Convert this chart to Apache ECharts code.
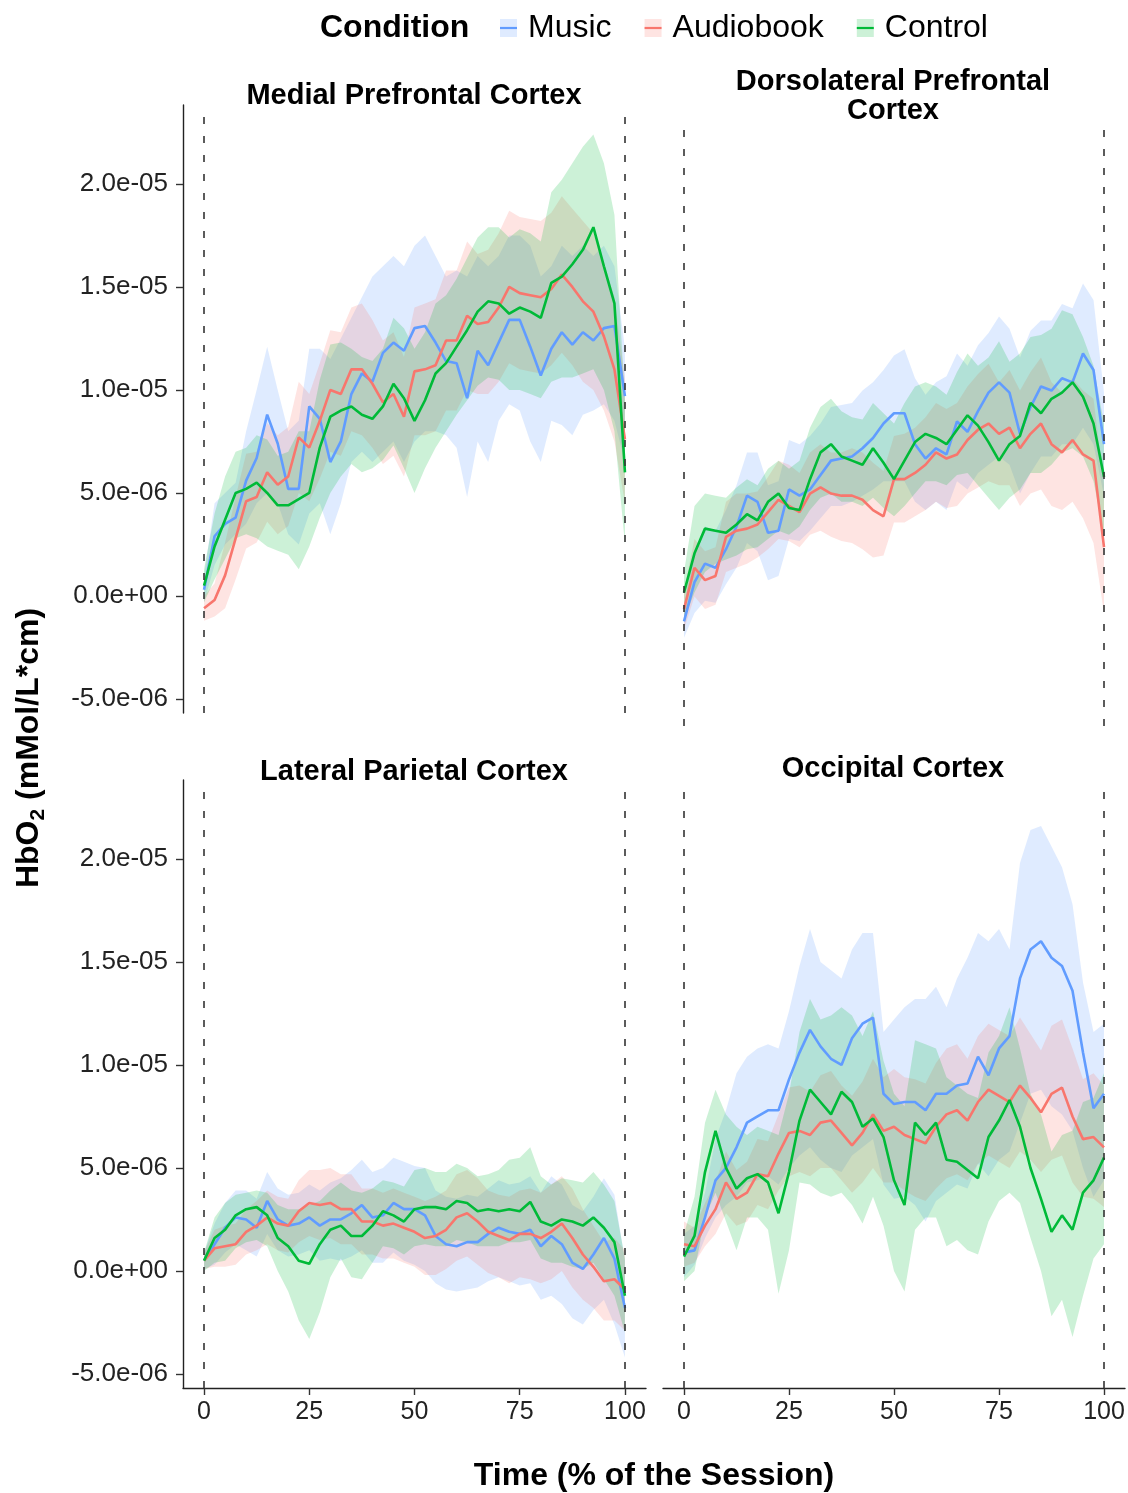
<!DOCTYPE html>
<html>
<head>
<meta charset="utf-8">
<script src="https://cdn.jsdelivr.net/npm/echarts@6/dist/echarts.min.js"></script>
<style>html,body{margin:0;padding:0;background:#fff}#chart{width:1128px;height:1493px}</style>
</head>
<body>
<div id="chart"></div>
<script>
// ---------- DATA (HbO2 values in units of 1e-6 mMol/L*cm) ----------
const time = [0,2.5,5,7.5,10,12.5,15,17.5,20,22.5,25,27.5,30,32.5,35,37.5,40,42.5,45,47.5,50,52.5,55,57.5,60,62.5,65,67.5,70,72.5,75,77.5,80,82.5,85,87.5,90,92.5,95,97.5,100];
const conditions = ['Music','Audiobook','Control'];
const regions = ['Medial Prefrontal Cortex','Dorsolateral Prefrontal\nCortex','Lateral Parietal Cortex','Occipital Cortex'];
const xTicks = [0,25,50,75,100];
const yTicks = [-5,0,5,10,15,20];

// Medial Prefrontal Cortex
const mpfc_music_mean = [0.3,2.9,3.5,3.8,5.6,6.7,8.8,7.4,5.2,5.2,9.2,8.6,6.5,7.5,9.8,10.8,10.4,11.8,12.3,11.9,13.0,13.1,12.3,11.4,11.3,9.6,11.9,11.2,12.3,13.4,13.4,12.1,10.7,12.0,12.8,12.2,12.8,12.4,13.0,13.1,9.7];
const mpfc_music_low  = [-0.3,1.5,2.5,3.0,3.5,4.5,5.0,4.5,3.0,2.5,4.0,4.5,3.0,4.5,6.5,7.0,6.5,7.0,7.5,6.5,7.5,8.0,8.0,7.8,7.2,4.8,7.5,6.5,8.5,9.3,9.0,7.5,6.5,8.5,8.3,7.8,8.8,9.0,9.3,8.5,6.5];
const mpfc_music_high = [1.0,4.5,5.0,5.5,8.0,10.0,12.1,10.0,8.0,8.5,12.0,12.0,11.5,12.5,13.5,14.5,15.5,16.0,16.5,16.0,17.0,17.5,16.5,15.5,15.8,15.5,16.5,16.0,16.5,17.5,17.5,17.0,15.5,16.0,17.0,16.5,17.0,16.5,17.0,16.0,12.0];
const mpfc_audio_mean = [-0.6,-0.2,1.0,2.8,4.6,4.8,6.0,5.4,5.8,7.7,7.2,8.5,10.0,9.8,11.0,11.0,10.3,9.4,9.8,8.7,10.9,11.0,11.2,12.4,12.4,13.6,13.2,13.3,14.0,15.0,14.7,14.6,14.5,14.9,15.6,15.0,14.3,13.8,12.6,11.0,7.6];
const mpfc_audio_low  = [-1.2,-1.0,-0.6,0.8,2.3,2.6,3.6,3.0,3.4,5.0,4.6,5.7,7.0,6.8,8.0,7.8,7.2,6.4,6.8,5.8,7.8,7.8,8.0,9.0,9.0,10.0,9.8,9.8,10.4,11.3,11.0,10.9,10.8,11.2,11.8,11.2,10.4,10.0,9.0,7.5,4.5];
const mpfc_audio_high = [0.0,0.6,2.6,4.8,6.9,7.0,8.4,7.8,8.2,10.4,9.8,11.3,12.9,12.8,14.0,14.2,13.4,12.4,12.8,11.6,14.0,14.2,14.4,15.8,15.8,17.2,16.6,16.8,17.6,18.7,18.4,18.3,18.2,18.6,19.4,18.8,18.2,17.6,16.2,14.5,10.5];
const mpfc_ctrl_mean  = [0.5,2.4,3.7,5.0,5.2,5.5,5.0,4.4,4.4,4.7,5.0,7.2,8.7,9.0,9.2,8.8,8.6,9.2,10.3,9.6,8.5,9.5,10.8,11.3,12.1,12.9,13.8,14.3,14.2,13.7,14.0,13.8,13.5,15.2,15.5,16.1,16.8,17.9,16.0,14.2,6.0];
const mpfc_ctrl_low   = [-0.3,0.8,1.8,2.8,3.0,2.8,2.4,2.2,2.0,1.3,2.4,3.8,5.0,5.8,6.4,6.0,6.2,6.6,7.3,6.2,5.0,6.2,7.2,8.0,8.8,9.5,10.2,10.6,10.5,10.0,10.0,9.8,9.6,10.4,10.6,10.6,10.8,11.0,10.0,8.0,2.5];
const mpfc_ctrl_high  = [1.3,4.0,5.8,7.0,7.2,7.8,7.6,6.8,7.0,8.0,8.0,10.5,12.2,12.3,12.0,11.6,11.4,12.0,13.5,13.0,12.0,12.8,14.2,14.6,15.4,16.4,17.4,17.9,17.9,17.4,17.8,17.6,17.2,19.6,20.2,21.0,21.8,22.4,21.0,18.5,9.5];

// Dorsolateral Prefrontal Cortex
const dlpfc_music_mean = [-0.6,1.3,2.2,2.0,2.9,4.0,5.5,5.2,3.7,3.8,5.8,5.5,5.8,6.5,7.2,7.3,7.4,7.8,8.3,9.0,9.5,9.5,8.0,7.3,7.8,7.5,9.1,8.6,9.6,10.5,11.0,10.5,8.5,9.8,10.8,10.6,11.2,11.0,12.4,11.6,8.0];
const dlpfc_music_low  = [-1.4,-0.2,0.4,0.3,1.2,2.0,3.2,2.8,1.4,1.6,3.4,3.3,3.8,4.4,5.0,5.0,5.2,5.5,5.8,6.2,6.2,6.2,5.2,4.8,5.2,4.8,6.2,5.8,6.6,7.0,7.4,7.0,5.6,6.6,7.4,7.4,8.0,8.0,8.8,8.0,5.5];
const dlpfc_music_high = [0.2,2.8,4.0,3.8,4.8,6.0,7.6,7.6,6.0,6.2,8.2,8.0,8.4,9.0,9.8,9.9,10.0,10.6,11.0,11.6,12.3,12.6,11.2,10.4,11.0,11.3,12.4,11.8,12.8,13.4,14.2,13.6,12.2,13.5,14.0,14.0,14.8,14.6,15.8,15.0,10.5];
const dlpfc_audio_mean = [0.0,2.0,1.4,1.6,3.5,3.8,3.9,4.1,4.7,5.3,5.0,4.7,5.6,5.9,5.6,5.5,5.5,5.3,4.8,4.5,6.3,6.3,6.6,7.0,7.6,7.3,7.5,8.2,8.7,9.0,8.5,8.8,7.8,8.5,9.0,8.0,7.6,8.2,7.5,7.2,3.0];
const dlpfc_audio_low  = [-1.0,0.6,0.0,0.2,1.8,2.0,2.2,2.5,2.9,3.4,3.3,3.0,3.6,3.8,3.5,3.3,3.2,2.9,2.5,2.6,4.2,4.2,4.5,4.8,5.2,4.9,5.0,5.6,5.9,6.2,6.0,6.0,5.0,5.6,5.8,5.0,4.8,5.2,4.4,3.2,-0.2];
const dlpfc_audio_high = [0.9,3.4,2.8,3.0,5.2,5.6,5.6,5.7,6.4,7.2,7.0,6.6,7.6,8.0,7.6,7.6,7.8,7.6,7.1,6.7,8.4,8.5,8.8,9.3,10.0,9.7,10.0,10.8,11.4,11.9,11.0,11.6,10.6,11.5,12.2,11.0,10.5,11.2,10.6,10.2,6.0];
const dlpfc_ctrl_mean  = [0.8,2.7,3.9,3.8,3.7,4.1,4.6,4.3,5.2,5.6,4.9,4.8,6.3,7.6,8.0,7.4,7.2,7.0,7.8,7.1,6.3,7.2,8.1,8.5,8.3,8.0,8.7,9.4,8.9,8.1,7.2,8.0,8.4,10.0,9.5,10.2,10.5,11.0,10.3,9.0,6.4];
const dlpfc_ctrl_low   = [-0.5,0.8,1.8,2.2,2.4,2.6,2.9,3.0,3.4,3.8,3.6,4.0,4.8,5.4,5.6,5.2,5.2,5.0,5.4,4.9,4.5,5.0,5.6,6.2,6.2,6.0,6.5,6.6,6.0,5.4,4.8,5.4,5.8,6.6,6.6,7.0,7.6,7.8,7.4,6.2,3.6];
const dlpfc_ctrl_high  = [1.8,5.0,5.6,5.5,5.4,5.9,6.3,6.0,6.8,7.2,6.8,7.2,8.8,9.8,10.2,9.6,9.3,9.2,10.0,9.5,9.0,10.0,10.8,11.0,10.8,10.4,11.5,12.4,11.8,12.2,13.0,12.0,12.4,13.2,13.3,13.6,14.5,14.3,13.2,11.8,9.0];

// Lateral Parietal Cortex
const lpc_music_mean = [0.5,1.3,2.1,2.6,2.5,2.1,3.4,2.5,2.2,2.3,2.6,2.2,2.5,2.5,2.8,3.2,2.6,2.7,3.3,3.0,3.0,2.7,1.7,1.3,1.2,1.4,1.4,1.8,2.1,1.9,1.8,2.0,1.2,1.7,1.3,0.4,0.1,0.8,1.6,0.6,-1.8];
const lpc_music_low  = [0.1,0.3,0.9,1.3,1.0,0.7,1.8,1.0,0.7,0.8,1.0,0.5,0.6,0.5,0.7,1.0,0.4,0.4,0.9,0.5,0.3,0.0,-0.6,-0.9,-1.0,-0.9,-0.8,-0.5,-0.3,-0.5,-0.7,-0.6,-1.4,-1.2,-1.6,-2.3,-2.6,-1.9,-1.4,-2.6,-4.2];
const lpc_music_high = [0.9,2.3,3.3,3.9,3.9,3.5,4.8,4.0,3.7,3.8,4.2,3.9,4.3,4.5,4.9,5.4,4.8,5.0,5.5,5.3,5.1,5.0,3.9,3.6,3.5,3.7,3.6,4.0,4.4,4.2,4.3,4.6,3.8,4.6,4.2,3.2,2.9,3.6,4.5,3.7,0.5];
const lpc_audio_mean = [0.5,1.1,1.2,1.3,1.9,2.2,2.6,2.3,2.2,2.9,3.3,3.2,3.3,3.0,3.0,2.4,2.4,2.2,2.3,2.1,1.9,1.6,1.7,2.0,2.6,2.8,2.4,1.9,1.7,1.5,1.8,1.8,1.6,1.9,2.3,1.6,0.8,0.2,-0.5,-0.4,-0.9];
const lpc_audio_low  = [0.1,0.2,0.2,0.3,0.8,1.0,1.3,1.0,0.9,1.4,1.7,1.5,1.6,1.3,1.3,0.8,0.8,0.6,0.6,0.4,0.2,-0.2,-0.2,0.1,0.5,0.7,0.3,-0.1,-0.3,-0.6,-0.3,-0.4,-0.6,-0.4,0.0,-0.8,-1.4,-1.8,-2.4,-2.4,-2.9];
const lpc_audio_high = [0.9,2.0,2.2,2.3,3.0,3.4,3.9,3.6,3.5,4.4,4.9,4.9,5.0,4.7,4.7,4.0,4.0,3.8,4.0,3.8,3.6,3.4,3.6,3.9,4.7,4.9,4.5,3.9,3.7,3.6,3.9,4.0,3.8,4.2,4.6,4.0,3.0,2.2,1.4,1.6,1.0];
const lpc_ctrl_mean  = [0.5,1.6,2.0,2.7,3.0,3.1,2.7,1.6,1.2,0.5,0.35,1.3,2.0,2.2,1.7,1.7,2.2,2.9,2.7,2.4,3.0,3.1,3.1,3.0,3.4,3.3,2.9,3.0,2.9,3.0,2.9,3.35,2.4,2.2,2.5,2.4,2.2,2.6,2.1,1.4,-1.2];
const lpc_ctrl_low   = [0.0,0.4,0.5,1.1,1.4,1.5,1.2,0.0,-1.0,-2.4,-3.3,-2.0,-0.3,0.6,-0.3,-0.4,0.4,1.2,1.1,0.8,1.2,1.3,1.2,1.2,1.5,1.4,1.2,1.2,1.2,1.4,1.4,1.5,0.6,0.4,0.4,0.2,0.1,0.4,-0.4,-1.2,-3.0];
const lpc_ctrl_high  = [0.9,2.6,3.3,3.7,3.8,3.9,3.8,3.2,3.0,3.0,3.2,3.4,3.9,4.3,3.9,3.8,4.0,4.4,4.3,4.1,4.9,5.0,4.8,4.8,5.2,5.0,4.6,4.7,4.9,5.4,5.5,6.0,4.6,4.2,4.5,4.4,4.3,4.8,4.2,3.4,0.6];

// Occipital Cortex
const oc_music_mean = [0.9,1.0,2.6,4.4,5.0,6.0,7.2,7.5,7.8,7.8,9.3,10.6,11.7,10.9,10.3,10.0,11.3,12.0,12.3,8.6,8.1,8.2,8.2,7.8,8.6,8.6,9.0,9.1,10.4,9.5,10.8,11.4,14.2,15.6,16.0,15.2,14.8,13.6,10.6,7.9,8.6];
const oc_music_low  = [-0.3,0.3,1.6,2.6,3.2,3.6,4.3,4.4,4.6,4.2,5.0,5.6,6.0,5.4,5.0,4.8,5.6,6.0,6.4,4.2,3.5,3.6,3.2,2.4,3.4,3.8,4.2,4.0,5.2,4.6,5.4,5.8,7.2,8.6,8.8,8.0,7.6,6.8,5.0,3.6,4.4];
const oc_music_high = [1.8,2.2,3.8,6.4,7.8,9.6,10.4,10.8,11.0,10.8,12.6,14.8,16.6,15.0,14.6,14.2,15.6,16.4,16.4,11.6,12.2,12.8,13.2,13.2,13.8,12.8,14.2,15.2,16.4,16.0,16.6,15.6,19.8,21.4,21.6,20.6,19.6,17.8,14.0,11.6,12.0];
const oc_audio_mean = [1.3,1.2,2.2,3.0,4.3,3.5,3.8,4.7,4.6,5.7,6.7,6.8,6.6,7.2,7.3,6.7,6.1,6.7,7.6,6.8,7.0,6.6,6.4,6.2,7.0,7.6,7.8,7.3,8.2,8.8,8.5,8.2,9.0,8.4,7.7,8.6,8.9,7.5,6.4,6.5,6.0];
const oc_audio_low  = [0.2,0.4,1.2,1.8,2.8,2.2,2.4,3.2,3.0,3.9,4.6,4.8,4.6,5.0,5.0,4.4,3.8,4.3,5.0,4.3,4.3,3.9,3.6,3.4,4.0,4.5,4.7,4.4,5.2,5.6,5.3,5.0,5.8,5.4,4.8,5.4,5.6,4.3,3.6,3.5,3.1];
const oc_audio_high = [2.4,2.1,3.3,4.3,5.8,4.9,5.3,6.4,6.3,7.6,8.9,9.0,8.7,9.5,9.7,9.0,8.5,9.2,10.3,9.4,9.8,9.4,9.3,9.1,10.1,10.8,11.0,10.3,11.4,12.0,11.7,11.4,12.3,11.5,10.7,11.9,12.2,10.8,9.3,9.6,9.0];
const oc_ctrl_mean  = [0.7,1.7,4.8,6.8,5.0,4.0,4.5,4.7,4.3,2.8,4.8,7.3,8.8,8.2,7.6,8.7,8.2,7.0,7.4,6.5,4.4,3.2,7.2,6.6,7.2,5.4,5.3,4.9,4.5,6.5,7.3,8.3,7.0,5.0,3.5,1.9,2.7,2.0,3.8,4.4,5.5];
const oc_ctrl_low   = [-0.5,0.0,2.6,3.8,2.4,1.0,2.6,2.6,2.0,-1.1,1.0,4.3,4.2,3.8,3.6,3.8,3.2,2.3,3.6,2.2,0.0,-1.0,2.0,2.6,2.6,1.2,1.5,1.0,0.8,2.4,3.4,3.8,3.3,1.6,0.0,-2.2,-1.4,-3.2,-1.2,0.6,1.3];
const oc_ctrl_high  = [1.8,3.6,7.2,8.8,7.6,7.0,6.6,7.0,6.8,6.6,8.6,11.6,13.2,12.2,12.4,12.8,12.4,11.4,12.6,10.2,8.6,8.0,11.2,11.0,10.8,9.4,9.0,8.6,8.4,10.6,11.4,12.8,10.8,8.6,7.6,5.8,6.6,6.8,8.2,8.4,9.6];

// ---------- STYLE ----------
const UNIT = 1e-6;
const FONT = "'Liberation Sans', Arial, Helvetica, sans-serif";
const lineColor = {Music:'#619CFF', Audiobook:'#F8766D', Control:'#00BA38'};
const bandColor = {Music:'rgba(97,156,255,0.2)', Audiobook:'rgba(248,118,109,0.2)', Control:'rgba(0,186,56,0.2)'};
const keyFill = {Music:'#DFEBFF', Audiobook:'#FEE4E2', Control:'#CCF1D7'};
const TICK_TEXT = '#222';

const panelData = [
  {Music:[mpfc_music_mean,mpfc_music_low,mpfc_music_high], Audiobook:[mpfc_audio_mean,mpfc_audio_low,mpfc_audio_high], Control:[mpfc_ctrl_mean,mpfc_ctrl_low,mpfc_ctrl_high]},
  {Music:[dlpfc_music_mean,dlpfc_music_low,dlpfc_music_high], Audiobook:[dlpfc_audio_mean,dlpfc_audio_low,dlpfc_audio_high], Control:[dlpfc_ctrl_mean,dlpfc_ctrl_low,dlpfc_ctrl_high]},
  {Music:[lpc_music_mean,lpc_music_low,lpc_music_high], Audiobook:[lpc_audio_mean,lpc_audio_low,lpc_audio_high], Control:[lpc_ctrl_mean,lpc_ctrl_low,lpc_ctrl_high]},
  {Music:[oc_music_mean,oc_music_low,oc_music_high], Audiobook:[oc_audio_mean,oc_audio_low,oc_audio_high], Control:[oc_ctrl_mean,oc_ctrl_low,oc_ctrl_high]}
];

const grids = [
  {left:183, top:105, width:463, height:608},
  {left:663, top:118, width:462, height:608},
  {left:183, top:780, width:463, height:608},
  {left:663, top:780, width:462, height:608}
].map(g => Object.assign(g, {outerBoundsMode:'none', containLabel:false}));

function sciFmt(v){
  const s = Number(v).toExponential(1);
  return s.replace(/e([+-])(\d)$/, (m, sg, d) => 'e' + sg + '0' + d);
}

const xAxes = grids.map((g, i) => {
  const bottom = i >= 2;
  return {
    type:'value', gridIndex:i, min:-5, max:105,
    axisLine:{show:bottom, onZero:false, lineStyle:{color:'#222', width:1.4}},
    axisTick:{show:bottom, length:7, lineStyle:{color:'#333', width:1.4}, customValues:xTicks},
    axisLabel:{show:bottom, margin:12, fontSize:25, color:TICK_TEXT, fontFamily:FONT, customValues:xTicks},
    splitLine:{show:false}
  };
});
const yTickVals = yTicks.map(v => v * UNIT);
const yAxes = grids.map((g, i) => {
  const left = i % 2 === 0;
  return {
    type:'value', gridIndex:i, min:-5.68 * UNIT, max:23.83 * UNIT,
    axisLine:{show:left, onZero:false, lineStyle:{color:'#222', width:1.4}},
    axisTick:{show:left, length:7, lineStyle:{color:'#333', width:1.4}, customValues:yTickVals},
    axisLabel:{show:left, margin:15, fontSize:26, color:TICK_TEXT, fontFamily:FONT, formatter:sciFmt, customValues:yTickVals},
    splitLine:{show:false}
  };
});

function bandRenderer(fill){
  return function(params, api){
    if (params.dataIndexInside !== 0) return null;
    const n = params.dataInsideLength;
    const upper = [], lower = [];
    for (let i = 0; i < n; i++) {
      const x = api.value(0, i);
      upper.push(api.coord([x, api.value(2, i)]));
      lower.push(api.coord([x, api.value(1, i)]));
    }
    return {type:'polygon', shape:{points: upper.concat(lower.reverse())}, style:{fill: fill, stroke: null, lineWidth: 0}};
  };
}

const series = [];
panelData.forEach((pd, gi) => {
  conditions.forEach((c, ci) => {
    const [mean, lo, hi] = pd[c];
    series.push({
      type:'custom', name:c, xAxisIndex:gi, yAxisIndex:gi, silent:true, clip:true,
      itemStyle:{color:lineColor[c]},
      encode:{x:0, y:[1,2]},
      data: time.map((t, k) => [t, lo[k] * UNIT, hi[k] * UNIT]),
      renderItem: bandRenderer(bandColor[c])
    });
    const ln = {
      type:'line', name:c, xAxisIndex:gi, yAxisIndex:gi, symbol:'none', silent:true,
      lineStyle:{color:lineColor[c], width:2.6}, itemStyle:{color:lineColor[c]},
      data: time.map((t, k) => [t, mean[k] * UNIT])
    };
    if (ci === conditions.length - 1) {
      ln.markLine = {
        silent:true, symbol:['none','none'], label:{show:false}, animation:false,
        lineStyle:{color:'#333', width:1.6, type:[7,12]},
        data: [{xAxis:xTicks[0]}, {xAxis:xTicks[xTicks.length - 1]}]
      };
    }
    series.push(ln);
  });
});

const panelTitlePos = [
  {left:414, top:81}, {left:893, top:67}, {left:414, top:757}, {left:893, top:754}
];
const titles = [
  {text:'Condition', left:320, top:12, padding:0, textStyle:{fontSize:32, fontWeight:'bold', color:'#000', fontFamily:FONT, lineHeight:32}}
].concat(regions.map((r, i) => ({
  text:r, left:panelTitlePos[i].left, top:panelTitlePos[i].top, textAlign:'center', padding:0,
  textStyle:{fontSize:29, fontWeight:'bold', color:'#000', fontFamily:FONT, lineHeight:29}
}))).concat([
  {text:'Time (% of the Session)', left:654, top:1459, textAlign:'center', padding:0,
   textStyle:{fontSize:32, fontWeight:'bold', color:'#000', fontFamily:FONT, lineHeight:34}}
]);

const legendBase = {
  left:500, top:11, orient:'horizontal', itemWidth:17, itemHeight:18, itemGap:33, padding:0,
  selectedMode:false
};
const legends = [
  Object.assign({}, legendBase, {
    textStyle:{fontSize:32, color:'rgba(0,0,0,0)', fontFamily:FONT, lineHeight:34, padding:[0,0,0,6]},
    data: conditions.map(c => ({name:c, icon:'rect', itemStyle:{color:keyFill[c], borderWidth:0}}))
  }),
  Object.assign({}, legendBase, {
    textStyle:{fontSize:32, color:'#000', fontFamily:FONT, lineHeight:34, padding:[0,0,0,6]},
    data: conditions.map(c => ({name:c, icon:'path://M0,0L20,0L20,2.6L0,2.6Z', itemStyle:{color:lineColor[c], borderWidth:0}}))
  })
];

const chart = echarts.init(document.getElementById('chart'), null, {renderer:'canvas'});
chart.setOption({
  backgroundColor:'#ffffff',
  animation:false,
  title: titles,
  legend: legends,
  grid: grids,
  xAxis: xAxes,
  yAxis: yAxes,
  series: series,
  graphic: [{
    type:'text', x:29, y:748, rotation:Math.PI / 2, silent:true,
    style:{
      text:'{a|HbO}{s|2}{a| (mMol/L*cm)}',
      align:'center', verticalAlign:'middle',
      rich:{
        a:{fontSize:32, fontWeight:'bold', fontFamily:FONT, fill:'#000', lineHeight:40, verticalAlign:'middle'},
        s:{fontSize:21, fontWeight:'bold', fontFamily:FONT, fill:'#000', lineHeight:21, verticalAlign:'bottom'}
      }
    }
  }]
});
</script>
</body>
</html>
